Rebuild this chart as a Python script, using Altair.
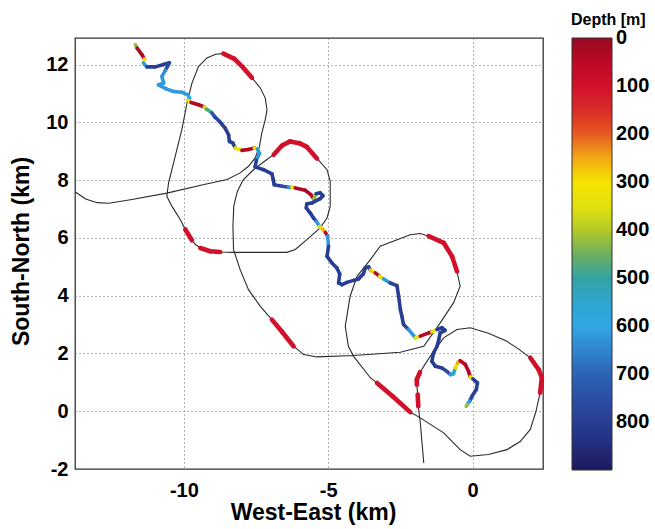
import altair as alt
import pandas as pd

# ---------------- data ----------------
# ship / surface path (black line), km
ship_x = [-13.77, -13.40, -13.00, -12.60, -11.80, -10.59, -9.30, -8.50, -8.05, -7.76,
          -7.53, -7.38, -7.30, -7.18, -7.12, -7.18, -7.35, -7.64, -7.95, -8.25,
          -8.63, -8.90, -9.20, -9.49, -9.72, -9.89, -10.07, -10.30, -10.53, -10.59,
          -10.41, -10.12, -9.95, -9.72, -9.60, -9.43, -9.09, -8.74, -8.28, -6.43,
          -6.14, -5.74, -5.28, -5.04, -4.93, -4.93, -5.04, -5.39, -5.74, -6.00,
          -6.32, -6.60, -6.89, -7.25, -7.60, -7.95, -8.15, -8.27, -8.30, -8.28,
          -8.05, -7.76, -7.35, -6.95, -6.60, -6.20, -5.85, -5.39, -4.12, -2.50,
          -1.69, -1.12, -0.66, -0.43, -0.54, -0.71, -1.00, -1.52, -1.81, -2.16,
          -3.20, -3.54, -4.00, -4.24, -4.41, -4.30, -4.12, -3.54, -3.31, -2.75,
          -2.16, -1.81, -1.00, -0.43, -0.08, 0.55, 1.19, 1.65, 2.00, 2.20,
          2.34, 2.40, 2.29, 2.00, 1.60, 1.19, 0.55, -0.08, -0.54, -1.00,
          -1.47, -1.82, -1.93, -1.93, -1.90, -1.88, -1.81, -1.75, -1.69]
ship_y = [7.60, 7.35, 7.22, 7.20, 7.33, 7.55, 7.85, 8.02, 8.25, 8.48,
          8.77, 9.17, 9.63, 10.09, 10.44, 10.84, 11.19, 11.54, 11.90, 12.20,
          12.38, 12.36, 12.23, 11.94, 11.36, 10.67, 9.75, 8.82, 7.90, 7.44,
          7.09, 6.63, 6.29, 5.92, 5.77, 5.65, 5.54, 5.51, 5.50, 5.50,
          5.60, 5.94, 6.35, 6.69, 7.09, 7.96, 8.36, 8.75, 9.15, 9.28,
          9.34, 9.20, 8.88, 8.62, 8.35, 8.00, 7.60, 7.10, 6.40, 5.60,
          4.90, 4.21, 3.63, 3.17, 2.75, 2.25, 1.96, 1.88, 1.93, 2.04,
          2.25, 3.06, 3.75, 4.33, 4.84, 5.36, 5.83, 6.06, 6.15, 6.11,
          5.71, 5.25, 4.67, 3.98, 2.94, 2.25, 1.90, 1.16, 0.98, 0.50,
          -0.03, -0.23, -0.75, -1.33, -1.56, -1.50, -1.33, -1.05, -0.63, 0.00,
          0.64, 1.16, 1.44, 1.85, 2.15, 2.42, 2.70, 2.89, 2.83, 2.54,
          1.90, 1.35, 1.10, 0.92, 0.58, 0.17, -0.40, -1.10, -1.79]

# shallow (red) stretches lying on the ship path: index ranges and depth (m)
surface_start = [17, 32, 35, 47, 63, 74, 88, 100, 111, 114]
surface_end = [20, 33, 37, 52, 65, 77, 90, 103, 113, 115]
surface_depth = [100, 100, 100, 100, 100, 100, 100, 100, 100, 100]

# tracked animal: position (km) and depth (m)
track_x = [-11.68, -11.62, -11.45, -11.36, -11.40, -11.28, -10.99, -10.70, -10.50, -10.64,
           -10.76, -10.70, -10.88, -10.59, -10.36, -10.07, -9.87, -9.80, -9.87, -9.75,
           -9.49, -9.29, -9.22, -9.03, -8.92, -8.75, -8.57, -8.45, -8.42, -8.30,
           -8.22, -7.99, -7.76, -7.56, -7.45, -7.38, -7.49, -7.53, -7.24, -6.95,
           -6.91, -6.87, -6.60, -6.37, -6.26, -6.14, -5.80, -5.60, -5.50, -5.42,
           -5.28, -5.18, -5.28, -5.56, -5.74, -5.76, -5.62, -5.51, -5.41, -5.30,
           -5.18, -5.10, -5.02, -4.99, -5.04, -4.87, -4.70, -4.60, -4.64, -4.52,
           -4.35, -4.12, -3.95, -3.78, -3.72, -3.60, -3.54, -3.37, -3.22, -3.08,
           -2.85, -2.62, -2.56, -2.50, -2.45, -2.39, -2.22, -1.98, -1.81, -1.52,
           -1.41, -1.23, -1.06, -0.95, -1.12, -1.17, -1.23, -1.35, -1.41, -1.29,
           -1.06, -0.89, -0.77, -0.66, -0.60, -0.52, -0.43, -0.25, -0.14, -0.08,
           0.01, 0.17, 0.13, -0.02, -0.10, -0.18, -0.22]
track_y = [12.69, 12.57, 12.34, 12.19, 12.05, 11.92, 11.92, 12.00, 12.06, 11.80,
           11.59, 11.36, 11.30, 11.15, 11.07, 11.04, 10.96, 10.84, 10.76, 10.69,
           10.61, 10.53, 10.46, 10.33, 10.18, 10.02, 9.80, 9.57, 9.34, 9.28,
           9.11, 9.03, 9.06, 9.11, 9.08, 8.92, 8.69, 8.46, 8.36, 8.22,
           8.04, 7.84, 7.79, 7.75, 7.75, 7.73, 7.65, 7.50, 7.35, 7.53,
           7.56, 7.46, 7.36, 7.21, 7.18, 7.04, 6.86, 6.69, 6.57, 6.40,
           6.29, 6.19, 6.06, 5.71, 5.36, 5.13, 4.96, 4.75, 4.44, 4.38,
           4.46, 4.53, 4.58, 4.76, 4.96, 5.00, 4.88, 4.79, 4.67, 4.58,
           4.44, 4.35, 3.98, 3.52, 3.29, 3.00, 2.83, 2.54, 2.60, 2.71,
           2.75, 2.83, 2.89, 2.80, 2.71, 2.48, 2.25, 2.02, 1.73, 1.56,
           1.50, 1.38, 1.27, 1.30, 1.50, 1.67, 1.75, 1.62, 1.38, 1.19,
           1.12, 0.98, 0.75, 0.52, 0.35, 0.24, 0.17]
track_depth = [420, 30, 30, 300, 620, 790, 800, 800, 760, 630,
               620, 620, 620, 620, 620, 620, 610, 600, 330, 30,
               30, 320, 470, 720, 780, 800, 800, 800, 800, 790,
               330, 30, 30, 330, 520, 620, 780, 800, 800, 800,
               800, 800, 750, 620, 320, 30, 30, 40, 420, 800,
               800, 800, 800, 800, 800, 800, 800, 780, 620, 330,
               260, 60, 620, 800, 800, 800, 800, 800, 800, 800,
               800, 800, 800, 800, 800, 780, 280, 40, 330, 620,
               780, 800, 800, 800, 800, 780, 620, 330, 40, 40,
               330, 800, 800, 800, 800, 800, 800, 800, 800, 800,
               800, 760, 620, 560, 330, 250, 60, 40, 40, 330,
               800, 800, 800, 780, 620, 420, 420]

# colour bar (depth stops and colours), tick labels
cbar_depth = [900, 850, 800, 750, 700, 650, 600, 550, 500, 450,
              400, 350, 300, 250, 200, 150, 100, 50, -0.5]
cbar_color = ["#1c1a5e", "#242c7c", "#283e92", "#2b4ea4", "#2e64b6", "#2f86d0", "#30a6e4",
              "#2ea6cc", "#34a2a4", "#6cb05c", "#b4c828", "#e2e20e", "#f6e400", "#f2a814",
              "#e65a20", "#da2c28", "#d2102a", "#bc0826", "#980a22"]
cbar_ticks = [800, 700, 600, 500, 400, 300, 200, 100, 0]

FONT = "Liberation Sans"

# ---------------- tables ----------------
ship = pd.DataFrame({"x": ship_x, "y": ship_y, "i": list(range(len(ship_x)))})

rows = []
for s, e, d in zip(surface_start, surface_end, surface_depth):
    for k in range(s, e):
        rows.append({"x": ship_x[k], "y": ship_y[k], "x2": ship_x[k + 1], "y2": ship_y[k + 1],
                     "nd": -d, "w": 4.6})
for k in range(len(track_x) - 1):
    rows.append({"x": track_x[k], "y": track_y[k], "x2": track_x[k + 1], "y2": track_y[k + 1],
                 "nd": -track_depth[k], "w": 3.6})
segs = pd.DataFrame(rows)

xscale = alt.Scale(domain=[-13.77, 2.44], nice=False, zero=False)
yscale = alt.Scale(domain=[-2, 12.92], nice=False, zero=False)

xaxis = alt.Axis(values=[-10, -5, 0], labelExpr="'' + datum.value", title="West-East (km)",
                 grid=True, ticks=False, domain=False, labelFont=FONT, labelFontSize=20,
                 labelColor="black", labelPadding=11, labelFontWeight="bold",
                 titleFont=FONT, titleFontSize=23, titleFontWeight="bold", titleColor="black",
                 titleX=238, titleY=32, titleBaseline="top")
yaxis = alt.Axis(values=[-2, 0, 2, 4, 6, 8, 10, 12], labelExpr="'' + datum.value",
                 title="South-North (km)", grid=True, ticks=False, domain=False,
                 labelFont=FONT, labelFontSize=20, labelColor="black", labelPadding=7,
                 labelFontWeight="bold",
                 titleFont=FONT, titleFontSize=23, titleFontWeight="bold", titleColor="black",
                 titleX=-47, titleY=213, titleBaseline="alphabetic", titleAngle=270)

line = alt.Chart(ship).mark_line(color="#2a2a2a", strokeWidth=1.1).encode(
    x=alt.X("x:Q", scale=xscale, axis=xaxis),
    y=alt.Y("y:Q", scale=yscale, axis=yaxis),
    order=alt.Order("i:Q"),
)

color_scale = alt.Scale(domain=[-d for d in cbar_depth], range=cbar_color, nice=False)
legend = alt.Legend(orient="none", legendX=497, legendY=0, title=None, direction="vertical",
                    gradientLength=432, gradientThickness=40, gradientStrokeColor="#333333",
                    gradientStrokeWidth=1, values=[-t for t in cbar_ticks],
                    labelExpr="'' + abs(datum.value)", labelFont=FONT, labelFontSize=20,
                    labelFontWeight="bold",
                    labelColor="black", labelOffset=4, labelOverlap=False, labelLimit=100,
                    padding=0)

rules = alt.Chart(segs).mark_rule(strokeCap="round").encode(
    x="x:Q", y="y:Q", x2="x2:Q", y2="y2:Q",
    color=alt.Color("nd:Q", scale=color_scale, legend=legend),
    strokeWidth=alt.StrokeWidth("w:Q", scale=None),
)

cb_title = alt.Chart(pd.DataFrame({"t": ["Depth [m]"]})).mark_text(
    align="left", baseline="alphabetic", font=FONT, fontSize=16, fontWeight="bold", color="black"
).encode(x=alt.value(496), y=alt.value(-13), text="t:N")

chart = alt.layer(line, rules, cb_title).properties(
    width=468, height=431,
    autosize=alt.AutoSizeParams(type="none"),
    padding={"left": 75, "top": 38, "right": 112, "bottom": 60},
).configure_view(stroke="#333333", strokeWidth=1.3).configure_axis(
    gridColor="#666666", gridDash=[1, 3], gridWidth=1, gridOpacity=1
)

chart.save("out.html", embed_options={"renderer": "svg", "actions": False})
